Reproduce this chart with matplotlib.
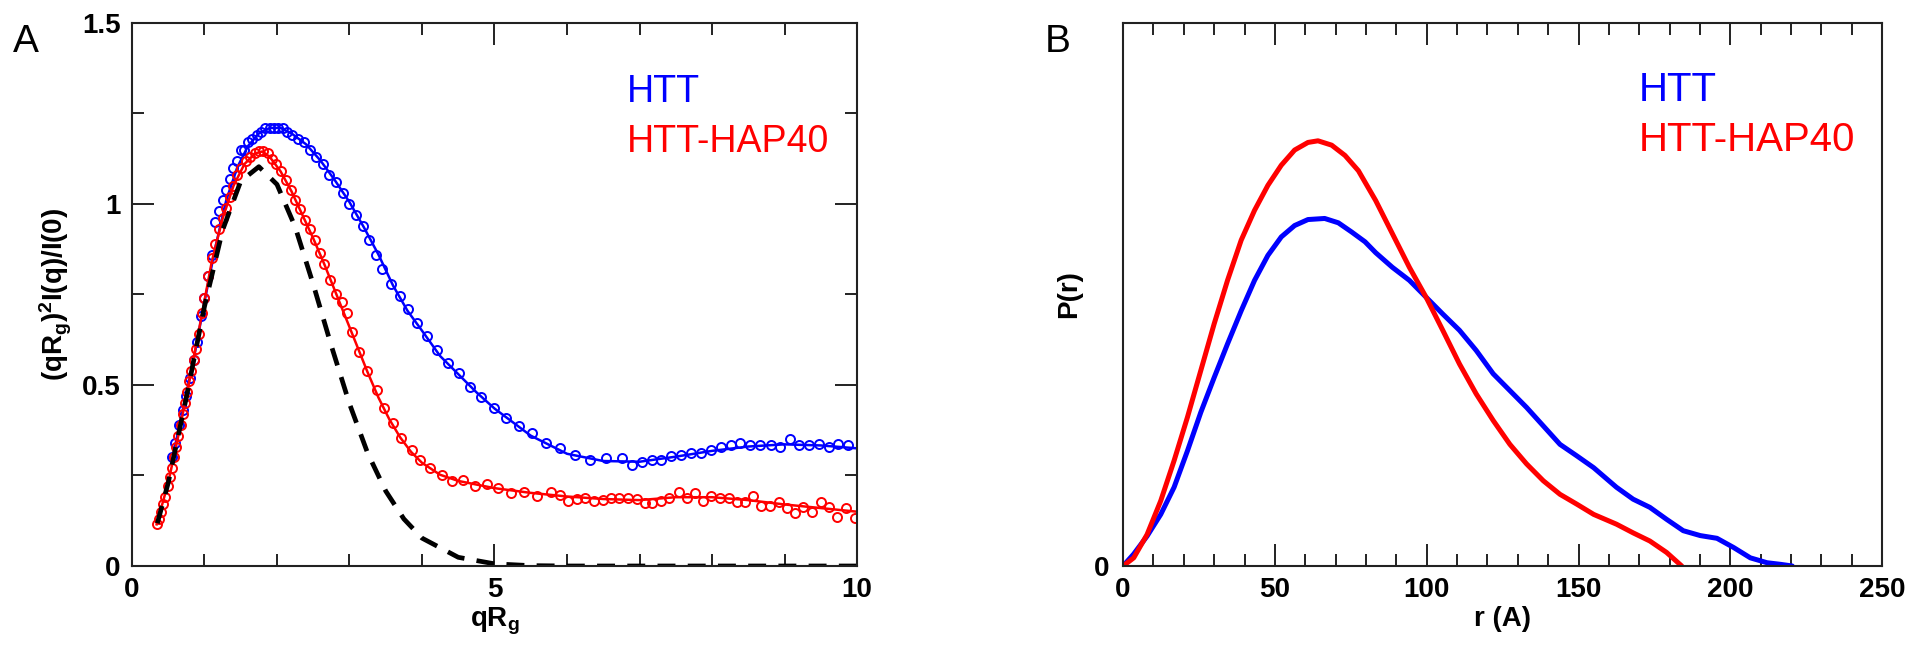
import matplotlib
matplotlib.use('Agg')
import matplotlib.pyplot as plt
from matplotlib.ticker import MultipleLocator

plt.rcParams['font.family'] = ['Liberation Sans', 'DejaVu Sans']
plt.rcParams['mathtext.fontset'] = 'custom'
plt.rcParams['mathtext.rm'] = 'Liberation Sans'
plt.rcParams['mathtext.bf'] = 'Liberation Sans:bold'
plt.rcParams['mathtext.it'] = 'Liberation Sans:italic'

BLUE = '#0000ff'
RED = '#ff0000'

# ---- panel A: dimensionless Kratky plot ----
htt_q = [0.55, 0.60, 0.65, 0.70, 0.75, 0.80, 0.85, 0.90, 0.95, 1.00, 1.05, 1.10, 1.15, 1.20,
         1.25, 1.30, 1.35, 1.40, 1.45, 1.50, 1.55, 1.60, 1.66, 1.72, 1.78, 1.84, 1.90, 1.96,
         2.02, 2.08, 2.14, 2.21, 2.29, 2.37, 2.45, 2.54, 2.63, 2.72, 2.81, 2.91, 3.00, 3.09,
         3.18, 3.27, 3.36, 3.45, 3.57, 3.69, 3.81, 3.93, 4.07, 4.21, 4.36, 4.51, 4.66, 4.82,
         5.00, 5.16, 5.34, 5.52, 5.71, 5.91, 6.11, 6.32, 6.54, 6.76, 6.90, 7.03, 7.17, 7.30,
         7.44, 7.57, 7.71, 7.85, 7.99, 8.12, 8.26, 8.39, 8.52, 8.66, 8.81, 8.94, 9.07, 9.20,
         9.34, 9.47, 9.61, 9.74, 9.87]
htt_i = [0.30, 0.34, 0.39, 0.43, 0.47, 0.52, 0.57, 0.62, 0.69, 0.74, 0.80, 0.86, 0.95, 0.98,
         1.01, 1.04, 1.07, 1.10, 1.12, 1.15, 1.15, 1.17, 1.18, 1.19, 1.20, 1.21, 1.21, 1.21,
         1.21, 1.21, 1.20, 1.19, 1.18, 1.17, 1.15, 1.13, 1.11, 1.08, 1.06, 1.03, 1.00, 0.97,
         0.94, 0.90, 0.86, 0.82, 0.78, 0.745, 0.71, 0.67, 0.634, 0.597, 0.56, 0.532, 0.495, 0.466,
         0.436, 0.408, 0.387, 0.366, 0.339, 0.325, 0.307, 0.293, 0.299, 0.297, 0.279, 0.288, 0.293, 0.293,
         0.305, 0.307, 0.311, 0.313, 0.32, 0.33, 0.334, 0.341, 0.334, 0.334, 0.334, 0.33, 0.35, 0.334,
         0.334, 0.337, 0.33, 0.337, 0.334]

hap_q = [0.34, 0.37, 0.40, 0.43, 0.46, 0.49, 0.52, 0.55, 0.58, 0.61, 0.64, 0.67, 0.70, 0.73,
         0.76, 0.79, 0.82, 0.85, 0.88, 0.92, 0.96, 1.00, 1.05, 1.10, 1.15, 1.20, 1.25, 1.30,
         1.35, 1.40, 1.45, 1.51, 1.57, 1.63, 1.69, 1.75, 1.81, 1.87, 1.93, 1.99, 2.06, 2.12,
         2.19, 2.25, 2.32, 2.38, 2.45, 2.52, 2.59, 2.65, 2.73, 2.82, 2.89, 2.96, 3.04, 3.13,
         3.24, 3.38, 3.47, 3.60, 3.71, 3.86, 3.97, 4.11, 4.28, 4.42, 4.56, 4.73, 4.89, 5.05,
         5.23, 5.41, 5.59, 5.78, 5.90, 6.02, 6.14, 6.25, 6.37, 6.49, 6.61, 6.72, 6.84, 6.96,
         7.07, 7.17, 7.30, 7.41, 7.54, 7.65, 7.76, 7.87, 7.99, 8.11, 8.23, 8.34, 8.46, 8.57,
         8.68, 8.80, 8.92, 9.03, 9.14, 9.26, 9.38, 9.50, 9.61, 9.73, 9.85, 9.97]
hap_i = [0.116, 0.13, 0.15, 0.17, 0.19, 0.22, 0.245, 0.27, 0.30, 0.33, 0.36, 0.39, 0.42, 0.45,
         0.48, 0.51, 0.54, 0.57, 0.60, 0.64, 0.70, 0.74, 0.80, 0.85, 0.89, 0.93, 0.96, 0.99,
         1.02, 1.05, 1.08, 1.10, 1.12, 1.13, 1.14, 1.145, 1.145, 1.14, 1.125, 1.11, 1.09, 1.065,
         1.04, 1.01, 0.985, 0.955, 0.93, 0.90, 0.865, 0.835, 0.79, 0.75, 0.73, 0.70, 0.645, 0.59,
         0.54, 0.486, 0.436, 0.394, 0.353, 0.32, 0.293, 0.27, 0.251, 0.235, 0.238, 0.221, 0.227, 0.215,
         0.203, 0.205, 0.194, 0.205, 0.196, 0.18, 0.184, 0.187, 0.18, 0.182, 0.187, 0.187, 0.187, 0.185,
         0.173, 0.175, 0.18, 0.189, 0.205, 0.187, 0.201, 0.18, 0.192, 0.189, 0.187, 0.178, 0.178, 0.193,
         0.167, 0.167, 0.176, 0.159, 0.147, 0.164, 0.15, 0.178, 0.164, 0.134, 0.161, 0.132]

htt_fit_q = [0.55, 0.7, 0.85, 1.0, 1.15, 1.3, 1.45, 1.6, 1.75, 1.9, 2.05, 2.2, 2.4, 2.6, 2.8,
             3.0, 3.2, 3.4, 3.6, 3.8, 4.0, 4.25, 4.5, 4.75, 5.0, 5.5, 6.0, 6.5, 7.0, 7.5, 8.0,
             8.5, 9.0, 9.5, 10.0]
htt_fit_i = [0.29, 0.43, 0.57, 0.73, 0.88, 1.01, 1.10, 1.16, 1.195, 1.21, 1.21, 1.195, 1.165,
             1.12, 1.065, 1.005, 0.935, 0.86, 0.775, 0.705, 0.65, 0.58, 0.53, 0.48, 0.435, 0.36,
             0.31, 0.29, 0.288, 0.302, 0.318, 0.33, 0.336, 0.333, 0.325]

hap_fit_q = [0.34, 0.5, 0.65, 0.8, 0.95, 1.1, 1.25, 1.4, 1.55, 1.7, 1.8, 1.9, 2.05, 2.2, 2.35,
             2.5, 2.65, 2.8, 2.95, 3.1, 3.25, 3.4, 3.55, 3.7, 3.85, 4.0, 4.25, 4.5, 5.0, 5.5,
             6.0, 6.5, 7.0, 7.5, 8.0, 8.5, 9.0, 9.5, 10.0]
hap_fit_i = [0.115, 0.23, 0.37, 0.52, 0.68, 0.84, 0.96, 1.05, 1.11, 1.14, 1.145, 1.13, 1.09,
             1.035, 0.97, 0.905, 0.835, 0.76, 0.685, 0.61, 0.535, 0.465, 0.405, 0.355, 0.315,
             0.285, 0.252, 0.235, 0.215, 0.202, 0.192, 0.185, 0.182, 0.19, 0.19, 0.182, 0.17,
             0.16, 0.15]

# globular reference curve (dashed)
glob_q = [0.35, 0.5, 0.75, 1.0, 1.25, 1.5, 1.75, 2.0, 2.25, 2.5, 2.75, 3.0, 3.25, 3.5, 3.75,
          4.0, 4.5, 5.0, 5.5, 6.0, 7.0, 8.0, 9.0, 10.0]
glob_i = [0.118, 0.230, 0.466, 0.717, 0.928, 1.063, 1.103, 1.054, 0.937, 0.778, 0.608, 0.448,
          0.312, 0.207, 0.130, 0.077, 0.024, 0.006, 0.001, 0.0, 0.0, 0.0, 0.0, 0.0]

# ---- panel B: pair distance distribution ----
htt_r = [0, 3.5, 7.9, 12.4, 16.8, 21.2, 25.6, 30, 34.4, 38.9, 43.3, 47.7, 52.1, 56.5, 60.9,
         66.4, 70.9, 75.3, 79.7, 83.2, 88.7, 94.3, 99.8, 105.3, 110.8, 116.3, 121.9, 127.4,
         132.9, 138.4, 143.9, 149.4, 155, 162.5, 168, 173.5, 179, 184.5, 190.1, 195.6, 201.1,
         206.6, 212.1, 216.6, 220.4]
htt_p = [0, 0.022, 0.055, 0.095, 0.145, 0.212, 0.283, 0.347, 0.409, 0.47, 0.526, 0.572, 0.606,
         0.627, 0.638, 0.64, 0.632, 0.615, 0.597, 0.577, 0.55, 0.526, 0.495, 0.464, 0.434, 0.397,
         0.354, 0.323, 0.292, 0.258, 0.224, 0.203, 0.181, 0.145, 0.123, 0.108, 0.086, 0.065,
         0.056, 0.051, 0.034, 0.015, 0.006, 0.003, 0]

hap_r = [0, 3.5, 7.9, 12.4, 16.8, 21.2, 25.6, 30, 34.4, 38.9, 43.3, 47.7, 52.1, 56.5, 60.9,
         64.2, 68.7, 73.1, 77.5, 83.2, 88.7, 94.3, 99.8, 105.3, 110.8, 116.3, 121.9, 127.4,
         132.9, 138.4, 143.9, 149.4, 155, 162.5, 168, 173.5, 179, 184]
hap_p = [0, 0.015, 0.058, 0.12, 0.194, 0.274, 0.36, 0.446, 0.526, 0.60, 0.655, 0.701, 0.738,
         0.766, 0.78, 0.783, 0.775, 0.756, 0.728, 0.673, 0.612, 0.55, 0.495, 0.434, 0.372, 0.317,
         0.268, 0.224, 0.188, 0.157, 0.132, 0.114, 0.095, 0.077, 0.061, 0.046, 0.025, 0]


def style_axes(ax):
    ax.tick_params(which='both', direction='in', top=True, right=True, width=1.4,
                   labelsize=20, colors='#222222')
    ax.tick_params(which='major', length=16, pad=8)
    ax.tick_params(which='minor', length=8.5)
    for s in ax.spines.values():
        s.set_linewidth(1.5)
        s.set_color('#222222')
    for lab in ax.get_xticklabels() + ax.get_yticklabels():
        lab.set_fontweight('bold')
        lab.set_color('black')


fig = plt.figure(figsize=(19.1, 6.49), dpi=100)
axA = fig.add_axes([0.0691, 0.1279, 0.3796, 0.8367])
axB = fig.add_axes([0.588, 0.1279, 0.3974, 0.8367])

axA.plot(htt_fit_q, htt_fit_i, color=BLUE, lw=1.8)
axA.plot(htt_q, htt_i, 'o', mfc='none', mec=BLUE, ms=6.5, mew=1.4)
axA.plot(hap_fit_q, hap_fit_i, color=RED, lw=1.8)
axA.plot(hap_q, hap_i, 'o', mfc='none', mec=RED, ms=6.5, mew=1.4)
axA.plot(glob_q, glob_i, color='black', lw=3.4, linestyle=(0, (3.8, 2.6)))

axA.set_xlim(0, 10)
axA.set_ylim(0, 1.5)
axA.xaxis.set_minor_locator(MultipleLocator(1))
axA.yaxis.set_minor_locator(MultipleLocator(0.25))
axA.set_xticks([0, 5, 10], ['0', '5', '10'])
axA.set_yticks([0, 0.5, 1, 1.5], ['0', '0.5', '1', '1.5'])
style_axes(axA)
axA.set_xlabel(r'$\mathbf{qR_g}$', fontsize=20, labelpad=2)
axA.set_ylabel(r'$\mathbf{(qR_g)^2I(q)/I(0)}$', fontsize=20, labelpad=6)

axA.text(0.683, 0.855, 'HTT', color=BLUE, fontsize=27, transform=axA.transAxes, va='baseline')
axA.text(0.683, 0.762, 'HTT-HAP40', color=RED, fontsize=27, transform=axA.transAxes, va='baseline')

axB.plot(htt_r, htt_p, color=BLUE, lw=3.6, solid_capstyle='round', solid_joinstyle='round')
axB.plot(hap_r, hap_p, color=RED, lw=3.6, solid_capstyle='round', solid_joinstyle='round')
axB.set_xlim(0, 250)
axB.set_ylim(0, 1)
axB.xaxis.set_major_locator(MultipleLocator(50))
axB.xaxis.set_minor_locator(MultipleLocator(10))
axB.set_yticks([0], ['0'])
style_axes(axB)
axB.tick_params(axis='y', which='both', length=0, right=False, pad=10)
axB.set_xlabel('r (A)', fontsize=20, fontweight='bold', labelpad=2)
axB.set_ylabel('P(r)', fontsize=20, fontweight='bold', labelpad=8)

axB.text(0.679, 0.856, 'HTT', color=BLUE, fontsize=29, transform=axB.transAxes, va='baseline')
axB.text(0.679, 0.764, 'HTT-HAP40', color=RED, fontsize=29, transform=axB.transAxes, va='baseline')

fig.text(0.007, 0.92, 'A', fontsize=28, va='baseline')
fig.text(0.547, 0.92, 'B', fontsize=28, va='baseline')

plt.savefig('out.png', dpi=100)
